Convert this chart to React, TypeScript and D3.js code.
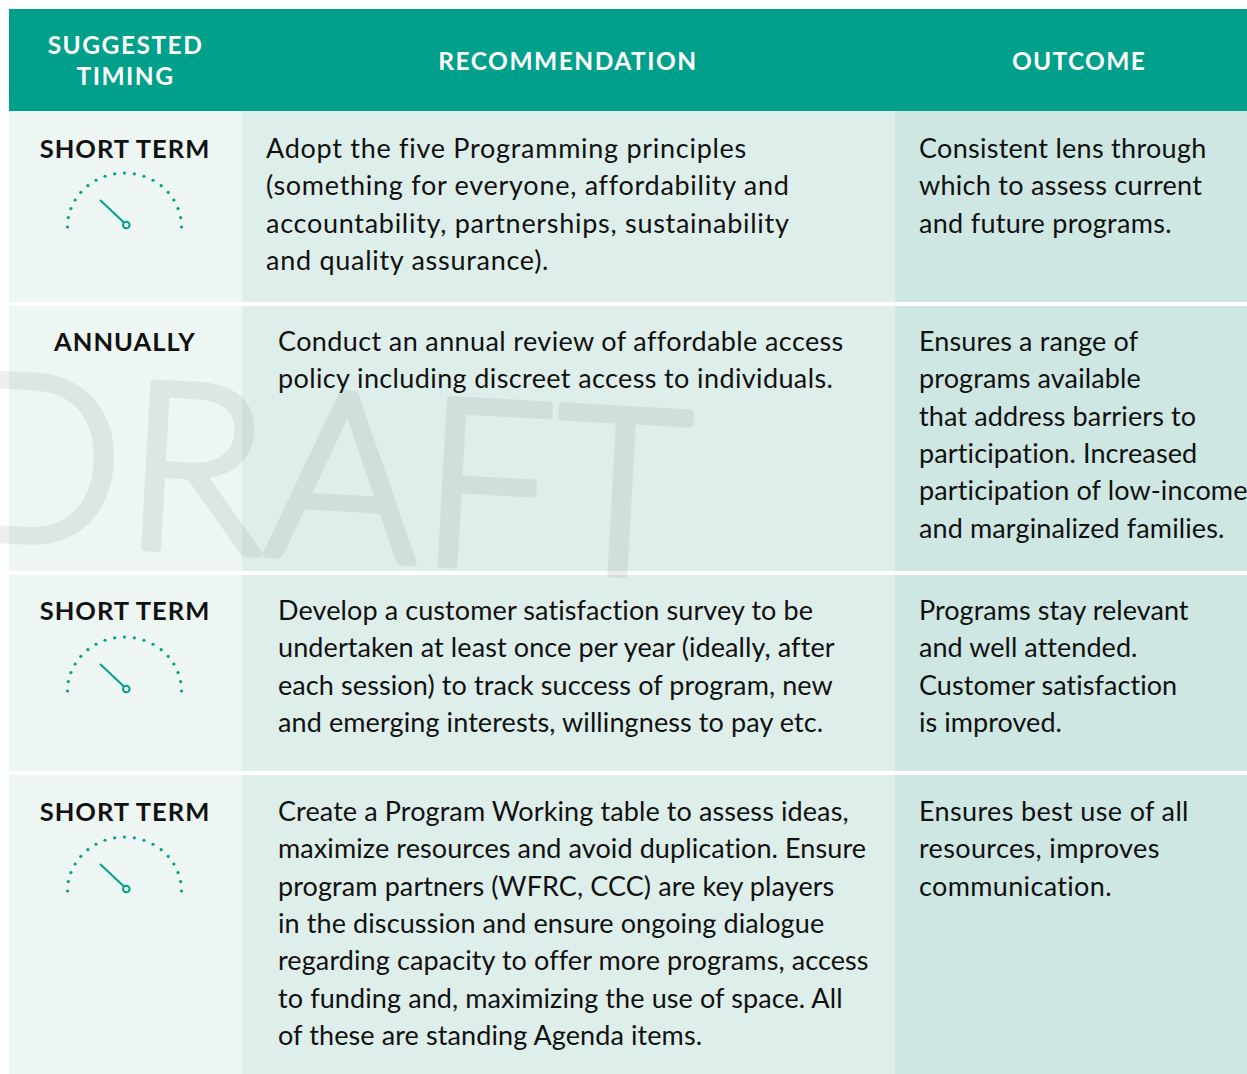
import * as d3 from "d3";

const headers = [["SUGGESTED", "TIMING"], ["RECOMMENDATION"], ["OUTCOME"]];
const timings = ["SHORT TERM", "ANNUALLY", "SHORT TERM", "SHORT TERM"];
const hasGauge = [true, false, true, true];
const recommendations = [
  [
    "Adopt the five Programming principles",
    "(something for everyone, affordability and",
    "accountability, partnerships, sustainability",
    "and quality assurance).",
  ],
  [
    "Conduct an annual review of affordable access",
    "policy including discreet access to individuals.",
  ],
  [
    "Develop a customer satisfaction survey to be",
    "undertaken at least once per year (ideally, after",
    "each session) to track success of program, new",
    "and emerging interests, willingness to pay etc.",
  ],
  [
    "Create a Program Working table to assess ideas,",
    "maximize resources and avoid duplication. Ensure",
    "program partners (WFRC, CCC) are key players",
    "in the discussion and ensure ongoing dialogue",
    "regarding capacity to offer more programs, access",
    "to funding and, maximizing the use of space. All",
    "of these are standing Agenda items.",
  ],
];
const outcomes = [
  ["Consistent lens through", "which to assess current", "and future programs."],
  [
    "Ensures a range of",
    "programs available",
    "that address barriers to",
    "participation. Increased",
    "participation of low-income",
    "and marginalized families.",
  ],
  ["Programs stay relevant", "and well attended.", "Customer satisfaction", "is improved."],
  ["Ensures best use of all", "resources, improves", "communication."],
];

// layout
const W = 1247;
const H = 1074;
const colEdges = [9, 242, 895, 1247];
const colFills = ["#edf6f3", "#deeeea", "#cee7e2"];
const rowTops = [111, 306, 575, 775];
const rowBottoms = [302, 571, 771, 1074];
const recX = [266, 278, 278, 278];
const recSpacing = [0.72, 0.38, 0.1, 0.1];
const outX = 919;
const outSpacing = [0.28, 0.12, 0.05, 0.35];
const firstBaseline = [158, 351, 620, 821];
const gaugeY = [225, 0, 689, 889];
const lineH = 37.3;
const font = "Lato, Carlito, sans-serif";
const teal = "#00a08a";

const dotCount = 19;
const angle = d3.scaleLinear().domain([0, dotCount - 1]).range([180, 360]);
const lineY = d3.scaleLinear().domain([0, 1]).range([0, lineH]);

function Gauge({ y }: { y: number }) {
  const cx = 124.5;
  const cy = y + 2;
  return (
    <g>
      {d3.range(dotCount).map((i) => {
        const a = (angle(i) * Math.PI) / 180;
        return (
          <circle key={i} cx={cx + 57 * Math.cos(a)} cy={cy + 54 * Math.sin(a)} r={1.6} fill={teal} />
        );
      })}
      <line x1={100} y1={y - 25} x2={124} y2={y - 2.5} stroke={teal} strokeWidth={2} />
      <circle cx={126.3} cy={y} r={3.3} fill="none" stroke={teal} strokeWidth={2} />
    </g>
  );
}

function Lines({ lines, x, y, spacing }: { lines: string[]; x: number; y: number; spacing: number }) {
  return (
    <g>
      {lines.map((t, i) => (
        <text key={i} x={x} y={y + lineY(i)} fontFamily={font} fontSize={27} letterSpacing={spacing} fill="#111">
          {t}
        </text>
      ))}
    </g>
  );
}

export default function App() {
  return (
    <svg width={W} height={H} style={{ position: "absolute", left: 0, top: 0 }}>
      <rect width={W} height={H} fill="#fff" />
      <rect x={9} y={9} width={W - 9} height={102} fill={teal} />
      {rowTops.map((top, r) =>
        colFills.map((fill, c) => (
          <rect
            key={`${r}-${c}`}
            x={colEdges[c]}
            y={top}
            width={colEdges[c + 1] - colEdges[c]}
            height={rowBottoms[r] - top}
            fill={fill}
          />
        ))
      )}
      <text
        transform="translate(-57 536) rotate(3.2)"
        fontFamily={font}
        fontWeight={300}
        fontSize={232}
        letterSpacing={2}
        fill="#666"
        stroke="#666"
        strokeWidth={8}
        strokeLinejoin="round"
        opacity={0.1}
      >
        DRAFT
      </text>

      {headers[0].map((t, i) => (
        <text key={t} x={125.5} y={54 + i * 31} textAnchor="middle" fontFamily={font} fontWeight={700} fontSize={24.5} letterSpacing={1.5} fill="#fff">
          {t}
        </text>
      ))}
      <text x={568} y={70} textAnchor="middle" fontFamily={font} fontWeight={700} fontSize={24.5} letterSpacing={1.5} fill="#fff">
        {headers[1][0]}
      </text>
      <text x={1079} y={70} textAnchor="middle" fontFamily={font} fontWeight={700} fontSize={24.5} letterSpacing={1.3} fill="#fff">
        {headers[2][0]}
      </text>

      {timings.map((t, r) => (
        <g key={r}>
          <text x={125} y={firstBaseline[r]} textAnchor="middle" fontFamily={font} fontWeight={700} fontSize={25.5} letterSpacing={1} fill="#111">
            {t}
          </text>
          {hasGauge[r] && <Gauge y={gaugeY[r]} />}
          <Lines lines={recommendations[r]} x={recX[r]} y={firstBaseline[r]} spacing={recSpacing[r]} />
          <Lines lines={outcomes[r]} x={outX} y={firstBaseline[r]} spacing={outSpacing[r]} />
        </g>
      ))}
    </svg>
  );
}
